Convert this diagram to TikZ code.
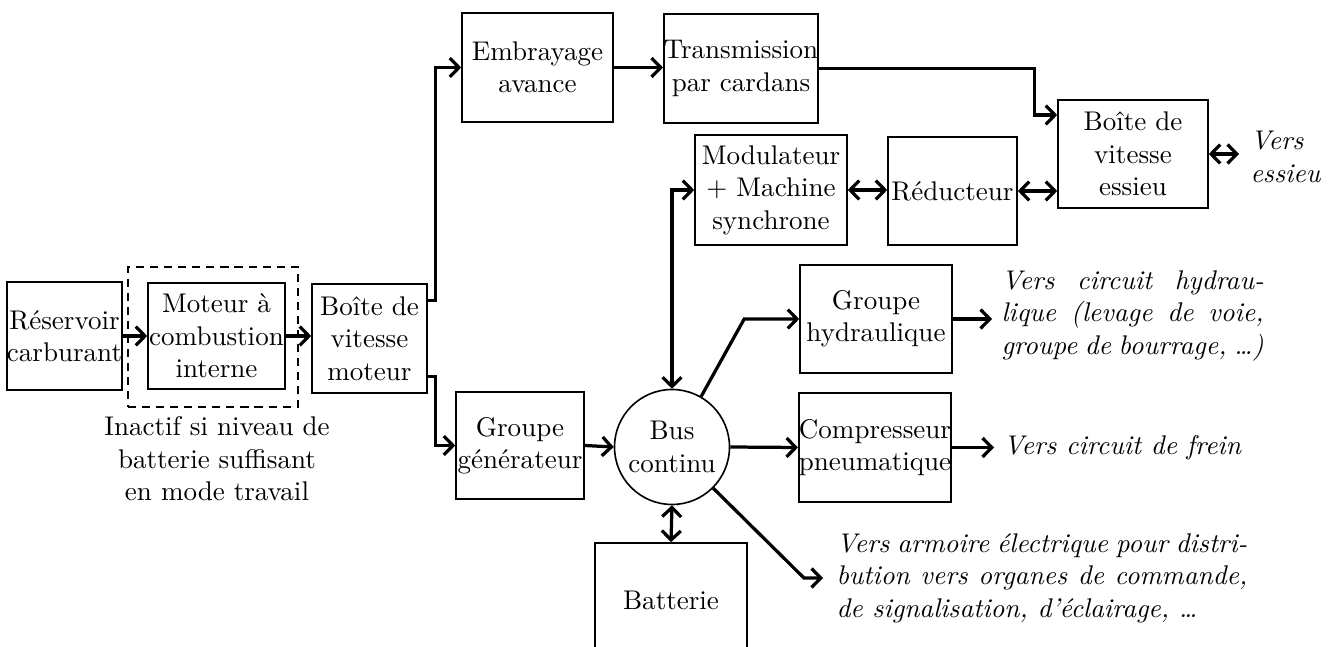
\documentclass[tikz,border=0pt]{standalone}
\usetikzlibrary{arrows.meta,calc}
\def\pxu{0.37pt}
\begin{document}
\begin{tikzpicture}[x=0.37pt,y=-0.37pt,
  bx/.style 2 args={draw,line width=0.6pt,inner sep=0pt,align=center,
    minimum width=#1*\pxu,minimum height=#2*\pxu},
  arr/.style={line width=1.2pt,-{Straight Barb[length=3.4pt,width=7pt]}},
  darr/.style={line width=1.2pt,{Straight Barb[length=3.4pt,width=7pt]}-{Straight Barb[length=3.4pt,width=7pt]}},
  itxt/.style={font=\itshape,inner sep=0pt}]
\useasboundingbox (0,0) rectangle (1328,647);
% boxes
\node[bx={115}{108}] (res) at (64.5,336) {Réservoir\\carburant};
\node[bx={137}{106}] (mot) at (216.5,336) {Moteur à\\combustion\\interne};
\node[draw,dashed,line width=1.1pt,dash pattern=on 3pt off 2.2pt,minimum width=170*\pxu,minimum height=140*\pxu,inner sep=0pt] (dash) at (213,337) {};
\node[bx={115}{109}] (bvm) at (369.5,338.5) {Boîte de\\vitesse\\moteur};
\node[bx={151}{109}] (emb) at (537.5,67.5) {Embrayage\\avance};
\node[bx={152}{109}] (tr) at (741,68.5) {Transmission\\par cardans};
\node[bx={152}{110}] (mod) at (771,190) {Modulateur\\$+$ Machine\\synchrone};
\node[bx={129}{108}] (red) at (952.5,191) {Réducteur};
\node[bx={150}{108}] (bve) at (1133,154) {Boîte de\\vitesse\\essieu};
\node[bx={152}{108}] (hyd) at (876,319) {Groupe\\hydraulique};
\node[bx={152}{109}] (comp) at (875,447.5) {Compresseur\\pneumatique};
\node[bx={128}{107}] (gen) at (520,445.5) {Groupe\\générateur};
\node[circle,draw,line width=0.6pt,inner sep=0pt,align=center,minimum size=115*\pxu] (bus) at (672,447) {Bus\\continu};
\node[bx={152}{114}] (bat) at (671,600) {Batterie};
% texts
\node[align=center,inner sep=0pt] (cap) at (217,459) {Inactif si niveau de\\batterie suffisant\\en mode travail};
\node[itxt,align=left,anchor=west] (ess) at (1250,157) {Vers\\essieu};
\node[itxt,text width=97pt,align=justify,anchor=west] (hydtxt) at (1001,316) {Vers circuit hydrau-\linebreak lique (levage de voie,\linebreak groupe de bourrage,~\dots)};
\node[itxt,anchor=west] (frein) at (1003,448) {Vers circuit de frein};
\node[itxt,text width=152pt,align=justify,anchor=west] (arm) at (836,578) {Vers armoire électrique pour distri-\linebreak bution vers organes de commande,\linebreak de signalisation, d'éclairage, \dots};
% connectors
\draw[arr] (res.east) -- (mot.west);
\draw[arr] (mot.east) -- (mot.east -| bvm.west);
\draw[arr] ($(bvm.east)+(0,-38)$) -- ++(8,0) |- (emb.west);
\draw[arr] ($(bvm.east)+(0,38)$) -- ++(8,0) |- (gen.west);
\draw[arr] (emb.east) -- (emb.east -| tr.west);
\draw[arr] (tr.east) -| ($(bve.west)+(-23,-39)$) -- ($(bve.west)+(0,-39)$);
\draw[darr] (mod.east) -- (mod.east -| red.west);
\draw[darr] (red.east) -- (red.east -| bve.west);
\draw[darr] (bve.east) -- ($(bve.east -| ess.west)+(-11,0)$);
\draw[darr] (bus.north) |- (mod.west);
\draw[arr] (gen.east) -- (bus.west);
\draw[arr] (bus.60) -- ($(hyd.west)+(-55,0)$) -- (hyd.west);
\draw[arr] (bus.east) -- (comp.west);
\draw[arr] (bus.-45) -- ($(arm.west)+(-32,0)$) -- ($(arm.west)+(-13,0)$);
\draw[darr] (bus.south) -- (bat.north);
\draw[arr] (hyd.east) -- ($(hyd.east -| hydtxt.west)+(-9,0)$);
\draw[arr] (comp.east) -- ($(comp.east -| frein.west)+(-9,0)$);
\end{tikzpicture}
\end{document}
